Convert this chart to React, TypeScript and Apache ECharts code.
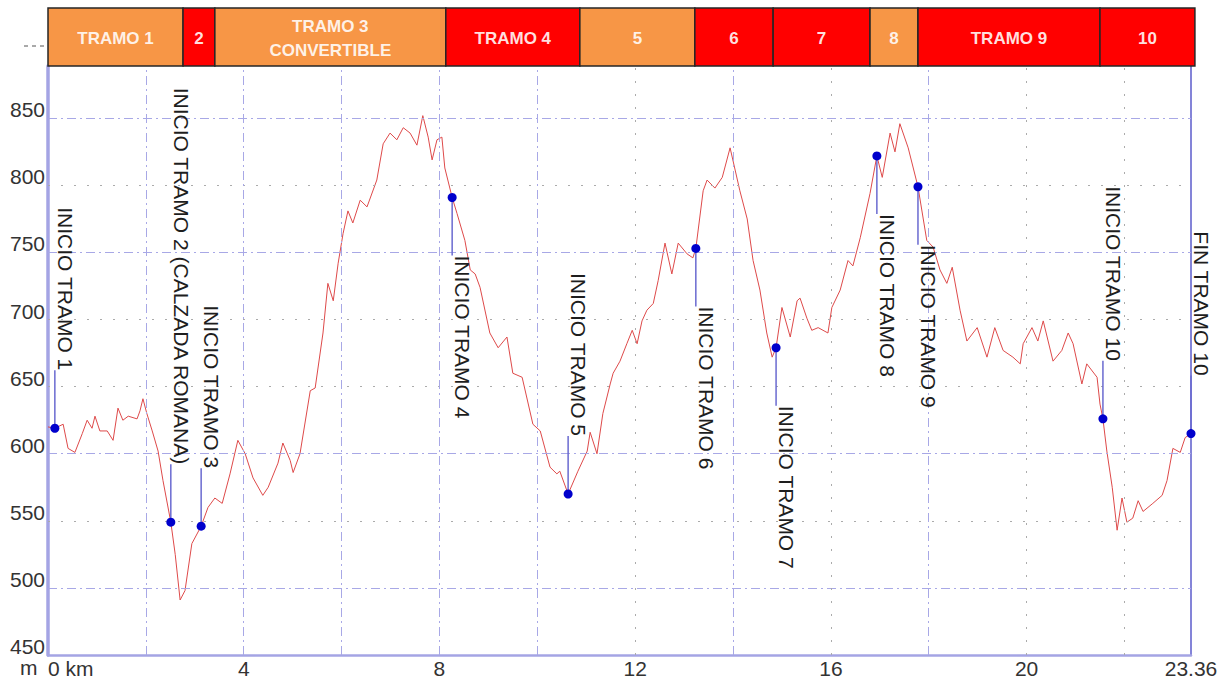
import React, { useEffect, useRef } from "react";
import * as echarts from "echarts";

// ---------- DATA ----------
const distKm = [
  0, 0.14, 0.31, 0.41, 0.55, 0.7, 0.8, 0.9, 0.96, 1.06,
  1.21, 1.33, 1.43, 1.53, 1.64, 1.82, 1.88, 1.94, 2.02, 2.13,
  2.25, 2.35, 2.51, 2.6, 2.7, 2.8, 2.94, 3.13, 3.27, 3.41,
  3.56, 3.72, 3.88, 4.03, 4.19, 4.39, 4.5, 4.7, 4.8, 4.95,
  5.01, 5.15, 5.36, 5.46, 5.62, 5.72, 5.83, 5.93, 6.03, 6.13,
  6.23, 6.38, 6.52, 6.72, 6.85, 6.99, 7.13, 7.26, 7.4, 7.54,
  7.66, 7.77, 7.85, 7.95, 8.05, 8.11, 8.26, 8.36, 8.52, 8.63,
  8.73, 8.83, 9.03, 9.2, 9.38, 9.5, 9.69, 9.91, 10.06, 10.26,
  10.4, 10.46, 10.63, 10.83, 11.02, 11.08, 11.22, 11.34, 11.49, 11.55,
  11.69, 11.83, 11.94, 12.04, 12.14, 12.24, 12.37, 12.47, 12.61, 12.75,
  12.88, 13.06, 13.18, 13.24, 13.39, 13.47, 13.63, 13.78, 13.94, 14.14,
  14.29, 14.41, 14.55, 14.69, 14.8, 14.88, 15.0, 15.17, 15.31, 15.37,
  15.51, 15.61, 15.74, 15.94, 16.02, 16.19, 16.35, 16.45, 16.6, 16.8,
  16.94, 17.05, 17.21, 17.31, 17.41, 17.58, 17.78, 17.96, 18.09, 18.23,
  18.37, 18.48, 18.64, 18.78, 18.99, 19.19, 19.35, 19.52, 19.72, 19.87,
  19.93, 20.11, 20.23, 20.34, 20.54, 20.72, 20.85, 20.95, 21.13, 21.23,
  21.44, 21.5, 21.56, 21.64, 21.75, 21.85, 21.95, 22.05, 22.17, 22.28,
  22.38, 22.58, 22.77, 22.87, 22.99, 23.14, 23.24, 23.36,
];
const elevM = [
  620, 619, 622, 604, 601, 615, 625, 619, 628, 617,
  617, 610, 634, 625, 628, 626, 632, 641, 630, 617,
  602, 580, 549, 525, 491, 498, 533, 546, 560, 567,
  563, 585, 610, 600, 582, 569, 575, 593, 608, 595,
  586, 600, 647, 649, 690, 727, 714, 742, 764, 781,
  772, 789, 784, 804, 831, 839, 834, 843, 839, 830,
  852, 836, 819, 834, 836, 813, 791, 779, 759, 737,
  734, 724, 690, 679, 687, 660, 657, 622, 617, 590,
  585, 587, 570, 587, 602, 616, 600, 630, 652, 660,
  669, 682, 692, 682, 699, 707, 712, 729, 757, 734,
  757, 749, 746, 753, 796, 804, 798, 806, 828, 796,
  775, 744, 722, 690, 672, 679, 709, 687, 714, 716,
  701, 692, 694, 690, 709, 722, 744, 740, 761, 794,
  822, 806, 839, 825, 846, 828, 799, 759, 754, 737,
  727, 739, 707, 684, 694, 672, 694, 677, 672, 667,
  682, 694, 684, 699, 669, 677, 690, 682, 652, 667,
  657, 637, 626, 602, 575, 543, 567, 549, 552, 565,
  557, 563, 569, 580, 604, 601, 612, 615,
];

const markerKm = [0.14, 2.51, 3.13, 8.26, 10.63, 13.24, 14.88, 16.94, 17.78, 21.56, 23.36];
const markerElev = [619, 549, 546, 791, 570, 753, 679, 822, 799, 626, 615];
const markerLabels = [
  "INICIO TRAMO 1",
  "INICIO TRAMO 2 (CALZADA ROMANA)",
  "INICIO TRAMO 3",
  "INICIO TRAMO 4",
  "INICIO TRAMO 5",
  "INICIO TRAMO 6",
  "INICIO TRAMO 7",
  "INICIO TRAMO 8",
  "INICIO TRAMO 9",
  "INICIO TRAMO 10",
  "FIN TRAMO 10",
];
// -1: label above the point, 1: label below the point
const markerSide = [-1, -1, -1, 1, -1, 1, 1, 1, 1, -1, -1];

const segStart = [0, 2.76, 3.41, 8.13, 10.87, 13.22, 14.82, 16.8, 17.78, 21.5];
const segEnd = [2.76, 3.41, 8.13, 10.87, 13.22, 14.82, 16.8, 17.78, 21.5, 23.44];
const segLabels = ["TRAMO 1", "2", "TRAMO 3\nCONVERTIBLE", "TRAMO 4", "5", "6", "7", "8", "TRAMO 9", "10"];
const segKind = ["o", "r", "o", "r", "o", "r", "r", "o", "r", "r"];

const xLabelValues = [0, 4, 8, 12, 16, 20, 23.36];
const yLabelValues = [450, 500, 550, 600, 650, 700, 750, 800, 850];

const gridMajorY = [500, 600, 750, 850];
const gridMinorY = [550, 650, 700, 800];
const gridMajorX = [2, 4, 6, 8, 10, 14, 18];
const gridMinorX = [12, 16, 20, 22];

// ---------- STYLE ----------
const FONT = '"Liberation Sans", Arial, Helvetica, sans-serif';
const ORANGE = "#F79646";
const RED = "#FF0000";

export default function App() {
  const ref = useRef<HTMLDivElement>(null);

  useEffect(() => {
    if (!ref.current) return;
    const chart = echarts.init(ref.current, null, { renderer: "svg" });

    const majorStyle = { color: "#a8a8e6", width: 1, type: [9, 4, 2, 4] as any };
    const minorStyle = { color: "#ababab", width: 1, type: [2, 11] as any };

    const markLineData: any[] = [
      ...gridMajorY.map((v) => ({ yAxis: v, lineStyle: majorStyle })),
      ...gridMinorY.map((v) => ({ yAxis: v, lineStyle: minorStyle })),
      ...gridMajorX.map((v) => ({ xAxis: v, lineStyle: majorStyle })),
      ...gridMinorX.map((v) => ({ xAxis: v, lineStyle: minorStyle })),
    ];

    const option: any = {
      animation: false,
      backgroundColor: "#ffffff",
      grid: [
        { left: 48, right: 35, top: 66, bottom: 26 },
        { left: 48, right: 35, top: 8, height: 58 },
      ],
      xAxis: [
        {
          type: "value",
          gridIndex: 0,
          min: 0,
          max: 23.36,
          interval: 2,
          axisLine: { show: true, onZero: false, lineStyle: { color: "#a4a4e4", width: 2.5 } },
          axisTick: { show: false },
          splitLine: { show: false },
          axisLabel: {
            fontFamily: FONT,
            fontSize: 21,
            color: "#333",
            margin: 3,
            alignMinLabel: "left",
            formatter: (v: number) => {
              const hit = xLabelValues.find((x) => Math.abs(x - v) < 1e-6);
              if (hit === undefined) return "";
              return hit === 0 ? "0 km" : String(hit);
            },
          },
        },
        { type: "value", gridIndex: 1, min: 0, max: 23.36, show: false },
      ],
      yAxis: [
        {
          type: "value",
          gridIndex: 0,
          min: 450,
          max: 889,
          interval: 50,
          axisLine: { show: true, onZero: false, lineStyle: { color: "#a4a4e4", width: 3.5 } },
          axisTick: { show: false },
          splitLine: { show: false },
          axisLabel: {
            fontFamily: FONT,
            fontSize: 21,
            color: "#333",
            margin: 3,
            verticalAlign: "bottom",
            lineHeight: 17,
            formatter: (v: number) => (yLabelValues.indexOf(v) >= 0 ? String(v) : ""),
          },
        },
        {
          type: "value",
          gridIndex: 0,
          position: "right",
          min: 450,
          max: 889,
          axisLine: { show: true, onZero: false, lineStyle: { color: "#8484d8", width: 2 } },
          axisTick: { show: false },
          axisLabel: { show: false },
          splitLine: { show: false },
        },
        { type: "value", gridIndex: 1, min: 0, max: 1, show: false },
      ],
      graphic: [
        {
          type: "text",
          left: 20,
          top: 657,
          style: { text: "m", font: `21px ${FONT}`, fill: "#333" },
        },
        {
          type: "line",
          shape: { x1: 24, y1: 46, x2: 46, y2: 46 },
          style: { stroke: "#555", lineWidth: 1, lineDash: [4, 4] },
        },
      ],
      series: [
        {
          type: "line",
          xAxisIndex: 0,
          yAxisIndex: 0,
          data: [],
          silent: true,
          z: 1,
          markLine: {
            silent: true,
            symbol: ["none", "none"],
            label: { show: false },
            emphasis: { disabled: true },
            data: markLineData,
          },
        },
        {
          type: "line",
          name: "perfil",
          xAxisIndex: 0,
          yAxisIndex: 0,
          data: distKm.map((d, i) => [d, elevM[i]]),
          showSymbol: false,
          symbol: "none",
          lineStyle: { color: "#de4a4a", width: 1 },
          z: 3,
        },
        {
          type: "custom",
          xAxisIndex: 0,
          yAxisIndex: 0,
          clip: false,
          z: 5,
          encode: { x: 0, y: 1 },
          data: markerKm.map((k, i) => [k, markerElev[i], markerSide[i]]),
          renderItem: (params: any, api: any) => {
            const idx = params.dataIndex;
            const p = api.coord([api.value(0), api.value(1)]);
            const dir = api.value(2);
            const L = 58;
            const endY = p[1] + dir * L;
            return {
              type: "group",
              children: [
                {
                  type: "line",
                  shape: { x1: p[0], y1: p[1], x2: p[0], y2: endY },
                  style: { stroke: "#6a6ad0", lineWidth: 1.5 },
                },
                {
                  type: "text",
                  x: p[0],
                  y: endY,
                  rotation: -Math.PI / 2,
                  style: {
                    text: markerLabels[idx],
                    x: 0,
                    y: 0,
                    align: dir < 0 ? "right" : "left",
                    textAlign: dir < 0 ? "right" : "left",
                    verticalAlign: "bottom",
                    textVerticalAlign: "bottom",
                    fill: "#1e1e1e",
                    font: `21px ${FONT}`,
                  },
                },
                {
                  type: "circle",
                  shape: { cx: p[0], cy: p[1], r: 4.5 },
                  style: { fill: "#0000cc" },
                },
              ],
            };
          },
        },
        {
          type: "custom",
          xAxisIndex: 1,
          yAxisIndex: 2,
          clip: false,
          z: 5,
          encode: { x: [0, 1], y: 2 },
          data: segStart.map((s, i) => [s, segEnd[i], 0.5]),
          renderItem: (params: any, api: any) => {
            const idx = params.dataIndex;
            const a = api.coord([api.value(0), 1]);
            const b = api.coord([api.value(1), 0]);
            const w = b[0] - a[0];
            const h = b[1] - a[1];
            return {
              type: "group",
              children: [
                {
                  type: "rect",
                  shape: { x: a[0], y: a[1], width: w, height: h },
                  style: {
                    fill: segKind[idx] === "o" ? ORANGE : RED,
                    stroke: "#262626",
                    lineWidth: 1.5,
                  },
                },
                {
                  type: "text",
                  style: {
                    text: segLabels[idx],
                    x: a[0] + w / 2,
                    y: a[1] + h / 2 + 1,
                    align: "center",
                    textAlign: "center",
                    verticalAlign: "middle",
                    textVerticalAlign: "middle",
                    lineHeight: 24,
                    fill: "rgba(255,255,255,0.88)",
                    font: `bold 17px ${FONT}`,
                  },
                },
              ],
            };
          },
        },
      ],
    };

    chart.setOption(option);
    return () => chart.dispose();
  }, []);

  return (
    <div
      ref={ref}
      style={{ position: "fixed", left: 0, top: 0, width: 1226, height: 681 }}
    />
  );
}
